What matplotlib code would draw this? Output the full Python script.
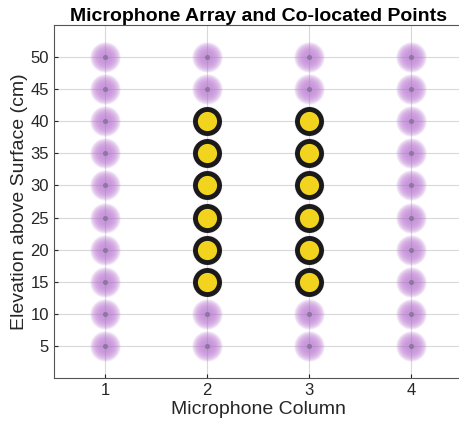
import matplotlib
matplotlib.use("Agg")
import matplotlib.pyplot as plt
import numpy as np

plt.rcParams['font.family'] = ['Liberation Sans', 'DejaVu Sans']

# microphone grid: 4 columns, heights 5..50 cm
mic_cols = [1, 2, 3, 4]
mic_heights = [5, 10, 15, 20, 25, 30, 35, 40, 45, 50]

# co-located points on the inner columns
colo_cols = [2, 3]
colo_heights = [15, 20, 25, 30, 35, 40]

fig = plt.figure(figsize=(4.59, 4.28), dpi=100)
ax = fig.add_axes([0.1176, 0.1168, 0.89, 0.825])

mx, my = np.meshgrid(mic_cols, mic_heights)
mx = mx.ravel()
my = my.ravel()

# soft purple glow: stacked translucent discs
for s in np.linspace(480, 60, 10):
    ax.scatter(mx, my, s=s, color=(0.72, 0.45, 0.82), alpha=0.12,
               linewidths=0, zorder=3)
ax.scatter(mx, my, s=14, color=(0.55, 0.48, 0.62), linewidths=0, zorder=4)

cx, cy = np.meshgrid(colo_cols, colo_heights)
ax.scatter(cx.ravel(), cy.ravel(), s=300, facecolor='#f2d41f',
           edgecolor='#1a1a1a', linewidths=3.5, zorder=5)

ax.set_xlim(0.5, 4.5)
ax.set_ylim(0, 55)
ax.set_xticks(mic_cols)
ax.set_yticks(mic_heights)
ax.grid(True, color='#d8d8d8', linewidth=0.8, zorder=0)
ax.set_axisbelow(True)
ax.tick_params(direction='in', length=3, labelsize=12, colors='#262626')
for sp in ax.spines.values():
    sp.set_color('#555555')
    sp.set_linewidth(0.8)
ax.spines['right'].set_visible(False)

ax.set_xlabel('Microphone Column', fontsize=14, color='#262626', labelpad=2)
ax.set_ylabel('Elevation above Surface (cm)', fontsize=14, color='#262626',
              labelpad=2)
ax.set_title('Microphone Array and Co-located Points', fontsize=14,
             fontweight='bold', pad=3)

fig.savefig('out.png', dpi=100)
